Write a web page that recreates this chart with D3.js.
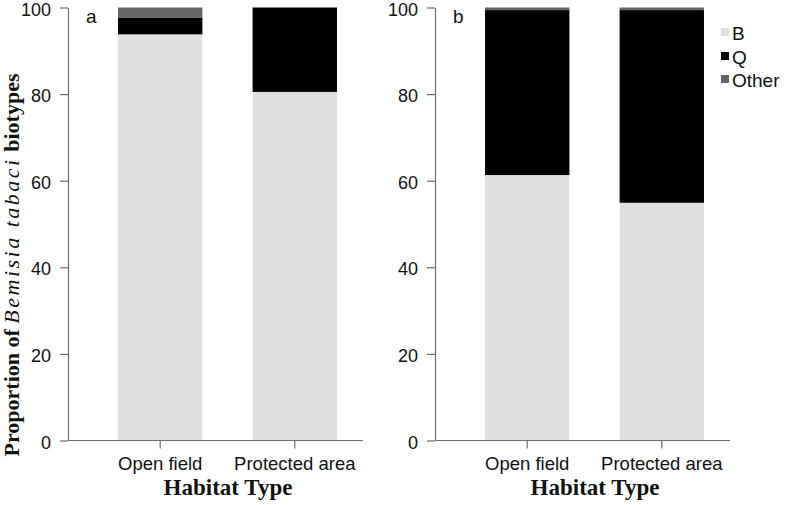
<!DOCTYPE html>
<html>
<head>
<meta charset="utf-8">
<script src="https://cdn.jsdelivr.net/npm/d3@7"></script>
<style>
  html, body { margin: 0; padding: 0; background: #fff; }
  svg { display: block; }
</style>
</head>
<body>
<svg id="chart" width="787" height="505"></svg>
<script>
// ---- data ----
const categories = ["Open field", "Protected area"];
const biotypes = ["B", "Q", "Other"];
const panelLabels = ["a", "b"];
// panel a
const aB = [93.8, 80.5];
const aQ = [3.9, 19.5];
const aOther = [2.3, 0];
// panel b
const bB = [61.3, 54.9];
const bQ = [38.1, 44.5];
const bOther = [0.6, 0.6];
const yTicks = [0, 20, 40, 60, 80, 100];

const colors = { B: "#e0e0e0", Q: "#000000", Other: "#646464" };
const axisColor = "#6e6e6e";

const panels = [
  { label: panelLabels[0], B: aB, Q: aQ, Other: aOther, dx: 0 },
  { label: panelLabels[1], B: bB, Q: bQ, Other: bOther, dx: 367 }
];

const svg = d3.select("#chart");
const y = d3.scaleLinear().domain([0, 100]).range([440.5, 7.5]);
const x = d3.scaleBand().domain(categories).range([93, 362]).paddingInner(0.373).paddingOuter(0.186);

const stack = d3.stack().keys(biotypes);

panels.forEach((p, pi) => {
  const g = svg.append("g").attr("transform", `translate(${p.dx},0)`);
  const rows = categories.map((c, i) => ({ cat: c, B: p.B[i], Q: p.Q[i], Other: p.Other[i] }));
  const series = stack(rows);

  g.selectAll("g.series").data(series).join("g")
    .attr("class", "series")
    .attr("fill", d => colors[d.key])
    .selectAll("rect").data(d => d).join("rect")
    .attr("x", d => x(d.data.cat))
    .attr("width", x.bandwidth())
    .attr("y", d => y(d[1]))
    .attr("height", d => Math.max(0, y(d[0]) - y(d[1])));

  // y axis
  const yAxis = d3.axisLeft(y).tickValues(yTicks).tickSize(8).tickPadding(9).tickSizeOuter(0);
  const ya = g.append("g").attr("transform", "translate(68,0)").call(yAxis);
  ya.select(".domain").attr("stroke", axisColor).attr("stroke-width", 1.2);
  ya.selectAll(".tick line").attr("stroke", axisColor).attr("stroke-width", 1.2);
  ya.selectAll(".tick text").attr("fill", "#111").attr("dy", "0.42em")
    .style("font-family", "Liberation Sans, Arial, sans-serif").style("font-size", "18px");

  // x axis
  const xAxis = d3.axisBottom(x).tickSize(8).tickPadding(8).tickSizeOuter(0);
  const xa = g.append("g").attr("transform", "translate(0,440.5)").call(xAxis);
  xa.select(".domain").attr("d", "M68,0H363").attr("stroke", axisColor).attr("stroke-width", 1.2);
  xa.selectAll(".tick line").attr("stroke", axisColor).attr("stroke-width", 1.2);
  xa.selectAll(".tick text").attr("fill", "#111").style("font-family", "Liberation Sans, Arial, sans-serif").style("font-size", "18.5px");

  // x title
  g.append("text")
    .attr("x", 228).attr("y", 495)
    .attr("text-anchor", "middle")
    .style("font-family", "Liberation Serif, 'Times New Roman', serif")
    .style("font-weight", "bold")
    .style("font-size", "23px")
    .attr("fill", "#111")
    .text("Habitat Type");

  // panel label
  g.append("text")
    .attr("x", 86).attr("y", 23)
    .style("font-family", "Liberation Sans, Arial, sans-serif")
    .style("font-size", "19px")
    .attr("fill", "#111")
    .text(p.label);
});

// y title
const yt = svg.append("text")
  .attr("transform", "translate(19,265) rotate(-90)")
  .attr("text-anchor", "middle")
  .style("font-family", "Liberation Serif, 'Times New Roman', serif")
  .style("font-size", "22px")
  .attr("fill", "#111");
yt.append("tspan").style("font-weight", "bold").text("Proportion of ");
yt.append("tspan").style("font-style", "italic").style("letter-spacing", "2.5px").text("Bemisia tabaci");
yt.append("tspan").style("font-weight", "bold").text(" biotypes");

// legend
const leg = svg.append("g").attr("transform", "translate(721,0)");
const legY = [33, 57, 80];
biotypes.forEach((k, i) => {
  leg.append("rect").attr("x", 0).attr("y", legY[i] - 5).attr("width", 8).attr("height", 8).attr("fill", colors[k]);
  leg.append("text").attr("x", 11).attr("y", legY[i]).attr("dy", "0.35em")
    .style("font-family", "Liberation Sans, Arial, sans-serif")
    .style("font-size", "19px")
    .attr("fill", "#111")
    .text(k);
});
</script>
</body>
</html>
